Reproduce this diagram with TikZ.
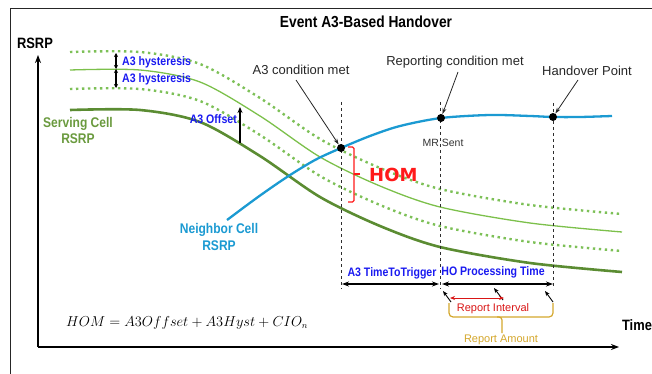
\documentclass[tikz,border=0pt]{standalone}
\usepackage{fontspec}
\setmainfont{Liberation Sans}
\newfontfamily\condfont{Liberation Sans}[FakeStretch=0.86]
\newfontfamily\homfont{DejaVu Sans}
\usetikzlibrary{arrows.meta}

\definecolor{servgreen}{HTML}{5B8C32}
\definecolor{lightgreen}{HTML}{7CC04B}
\definecolor{dotgreen}{HTML}{7DC057}
\definecolor{nbblue}{HTML}{1B9AD2}
\definecolor{lblblue}{HTML}{1A1AF0}
\definecolor{servtext}{HTML}{6A9A3E}
\definecolor{goldtone}{HTML}{D4A72C}
\definecolor{homred}{HTML}{FF1A1A}
\definecolor{dashgray}{HTML}{2E2E2E}

\tikzset{
  axis/.style={line width=2.2pt, -{Stealth[length=8pt,width=6pt]}},
  frameline/.style={line width=0.8pt, black!85},
  servcurve/.style={servgreen, line width=2.6pt},
  offcurve/.style={lightgreen, line width=1.3pt},
  hystcurve/.style={dotgreen, line width=2.4pt, dash pattern=on 2.4pt off 3.6pt},
  nbcurve/.style={nbblue, line width=2.3pt},
  guide/.style={dashgray, line width=1pt, dash pattern=on 3pt off 3pt},
  evdot/.style={circle, fill=black, inner sep=0pt, minimum size=8pt},
  pointer/.style={black!85, line width=0.8pt, -{Stealth[length=6pt,width=4pt]}},
  dimarrow/.style={black, line width=1.4pt, {Stealth[length=7pt,width=5pt]}-{Stealth[length=7pt,width=5pt]}},
  smallarrow/.style={black, line width=0.9pt, -{Stealth[length=5pt,width=4pt]}},
  hystarrow/.style={black, line width=1.2pt, {Stealth[length=4pt,width=4pt]}-{Stealth[length=4pt,width=4pt]}},
  boldlbl/.style={font=\condfont\bfseries\fontsize{12.3}{14}\selectfont, text=lblblue, inner sep=0pt},
  plainlbl/.style={font=\fontsize{13}{15}\selectfont, text=black!85, inner sep=0pt},
  axislbl/.style={font=\condfont\bfseries\fontsize{15}{17}\selectfont, inner sep=0pt},
}

\newcommand\servingpts{(70,110) (140,110) (200,122) (260,156) (320,197) (380,226) (440,247) (530,263) (622,272)}

\begin{document}
\begin{tikzpicture}[x=1pt,y=-1pt]
\useasboundingbox (0,0) rectangle (652,374);

% frame edges
\draw[frameline] (652,8) -- (10,8) -- (10,374);

% title
\node[font=\condfont\bfseries\fontsize{16}{18}\selectfont, inner sep=0pt] (title) at (366,22) {Event A3-Based Handover};

% axes
\coordinate (origin) at (38,347);
\coordinate (ytop) at (38,55);
\coordinate (xend) at (619,347);
\draw[axis] (origin) -- (ytop);
\draw[axis] (origin) -- (xend);
\node[axislbl] (rsrp) at (35,43) {RSRP};
\node[axislbl] (time) at (637,325) {Time};

% serving cell and the thresholds derived from it
\draw[servcurve] plot[smooth] coordinates {\servingpts};
\begin{scope}[yshift=40pt]
  \draw[offcurve] plot[smooth] coordinates {\servingpts};
\end{scope}
\begin{scope}[yshift=58pt]
  \draw[hystcurve] plot[smooth] coordinates {\servingpts};
\end{scope}
\begin{scope}[yshift=21pt]
  \draw[hystcurve] plot[smooth] coordinates {\servingpts};
\end{scope}

% neighbour cell
\draw[nbcurve] plot[smooth] coordinates {(227,220) (258,197) (287,177) (315,160) (341,148) (370,136) (400,126) (441,118) (490,115) (530,116) (553,117) (580,117) (612,116)};

% event instants
\coordinate (g1t) at (341,102); \coordinate (g1b) at (341,289);
\coordinate (g2t) at (440,102); \coordinate (g2b) at (440,289);
\coordinate (g3t) at (553,103); \coordinate (g3b) at (553,289);
\draw[guide] (g1t) -- (g1b);
\draw[guide] (g2t) -- (g2b);
\draw[guide] (g3t) -- (g3b);

\node[evdot] (acm) at (341,148) {};
\node[evdot] (rcm) at (441,118) {};
\node[evdot] (hop) at (553,117) {};

\node[plainlbl] (acmlbl) at (301,70) {A3 condition met};
\node[plainlbl] (rcmlbl) at (455,62) {Reporting condition met};
\node[plainlbl] (hoplbl) at (587,71) {Handover Point};
\coordinate (acmfrom) at (296,80);
\coordinate (rcmfrom) at (458,72);
\coordinate (hopfrom) at (578,80);
\draw[pointer] (acmfrom) -- (acm);
\draw[pointer] (rcmfrom) -- (rcm);
\draw[pointer] (hopfrom) -- (hop);
\node[font=\fontsize{10.5}{12}\selectfont, text=black!80, inner sep=0pt] (mr) at (443,143) {MR Sent};

% hysteresis and offset markers
\coordinate (h1a) at (116,53); \coordinate (h1b) at (116,69); \coordinate (h2b) at (116,88);
\draw[hystarrow] (h1a) -- (h1b);
\draw[hystarrow] (h1b) -- (h2b);
\node[boldlbl, anchor=west] (hy1) at (122,62) {A3 hysteresis};
\node[boldlbl, anchor=west] (hy2) at (122,79) {A3 hysteresis};
\coordinate (offlo) at (240,143); \coordinate (offhi) at (240,107);
\draw[black, line width=1.5pt, -{Stealth[length=6pt,width=5pt]}] (offlo) -- (offhi);
\node[boldlbl, anchor=east] (offlbl) at (237,119) {A3 Offset};

% curve labels
\node[font=\condfont\bfseries\fontsize{14}{16}\selectfont, text=servtext, align=center, inner sep=0pt] (servlbl) at (78,130) {Serving Cell\\RSRP};
\node[font=\condfont\bfseries\fontsize{14}{17}\selectfont, text=nbblue, align=center, inner sep=0pt] (nblbl) at (219,237) {Neighbor Cell\\RSRP};

% handover margin
\draw[homred, line width=1.2pt, rounded corners=1.5pt] (348,147) -- (354,147) -- (354,202) -- (348,202);
\draw[homred, line width=1.2pt] (354,174) -- (360,174);
\node[font=\homfont\bfseries\fontsize{18}{20}\selectfont, text=homred, anchor=west, inner sep=0pt] (hom) at (369,175) {HOM};

% timing
\coordinate (ttta) at (342,284); \coordinate (tttb) at (439,284);
\coordinate (hopa) at (442,284); \coordinate (hopb) at (553,284);
\draw[dimarrow] (ttta) -- (tttb);
\draw[dimarrow] (hopa) -- (hopb);
\node[boldlbl] (tttlbl) at (392,273) {A3 TimeToTrigger};
\node[boldlbl] (hptlbl) at (493,272) {HO Processing Time};

\coordinate (m1a) at (451,302); \coordinate (m1b) at (443,291);
\coordinate (m2a) at (503,300); \coordinate (m2b) at (494,288);
\coordinate (m3a) at (553,302); \coordinate (m3b) at (545,291);
\draw[smallarrow] (m1a) -- (m1b);
\draw[smallarrow] (m2a) -- (m2b);
\draw[smallarrow] (m3a) -- (m3b);

\coordinate (ria) at (450,298); \coordinate (rib) at (504,298);
\draw[homred!85!black, line width=1pt, {Stealth[length=5pt,width=4pt]}-{Stealth[length=5pt,width=4pt]}] (ria) -- (rib);
\node[font=\fontsize{11}{13}\selectfont, text=homred!85!black, inner sep=0pt] (rilbl) at (493,309) {Report Interval};

\draw[goldtone, line width=1.2pt, rounded corners=4pt] (449,303) -- (449,317) -- (553,317) -- (553,303);
\draw[goldtone, line width=1.2pt, rounded corners=3pt] (497,317) -- (502,317) -- (502,333);
\node[font=\fontsize{11}{13}\selectfont, text=goldtone, inner sep=0pt] (ralbl) at (501,340) {Report Amount};

% formula
\node[font=\fontsize{13.3}{15}\selectfont, anchor=west, inner sep=0pt] (formula) at (66,323) {$HOM = A3Offset + A3Hyst + CIO_n$};
\end{tikzpicture}
\end{document}
